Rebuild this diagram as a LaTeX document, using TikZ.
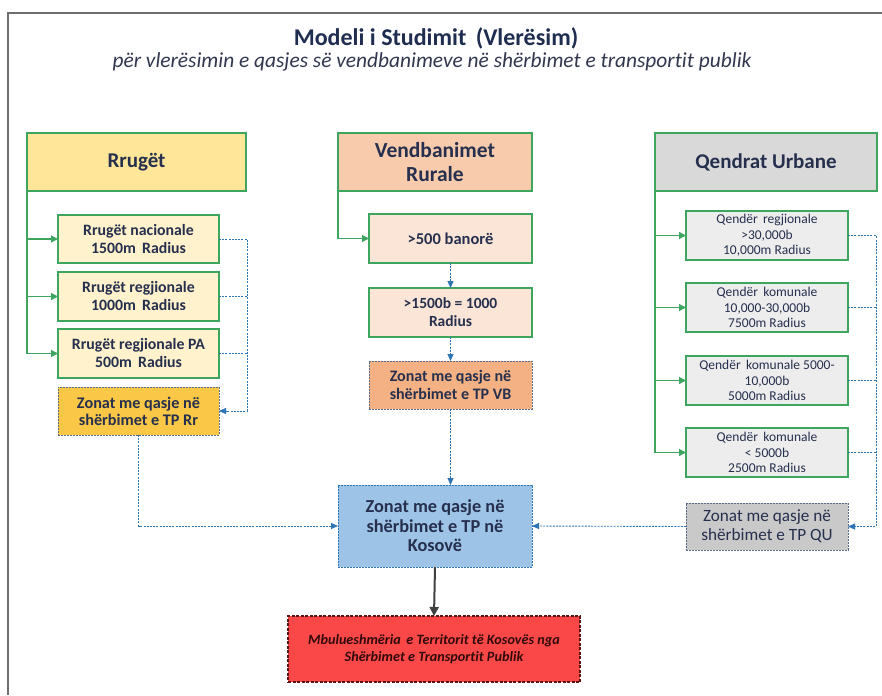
\documentclass[tikz,border=0pt]{standalone}
\usepackage{fontspec}
\setmainfont{Carlito}[Ligatures=NoCommon]
\usetikzlibrary{arrows.meta}
\definecolor{gbord}{RGB}{62,165,95}
\definecolor{bline}{RGB}{46,117,182}
\definecolor{dbord}{RGB}{90,110,140}
\definecolor{txt}{RGB}{38,48,78}
\definecolor{hY}{HTML}{FFE699}
\definecolor{sY}{HTML}{FFF2CC}
\definecolor{zY}{RGB}{250,200,70}
\definecolor{hO}{HTML}{F8CBAD}
\definecolor{sO}{HTML}{FBE5D6}
\definecolor{zO}{HTML}{F4B183}
\definecolor{hG}{HTML}{D9D9D9}
\definecolor{sG}{HTML}{EDEDED}
\definecolor{zG}{HTML}{C9C9C9}
\definecolor{kB}{HTML}{9DC3E6}
\definecolor{rR}{RGB}{250,72,72}
\definecolor{rB}{RGB}{90,20,20}
\definecolor{rT}{RGB}{50,10,10}
\definecolor{frame}{RGB}{110,110,110}
\begin{document}
\begin{tikzpicture}[x=1pt,y=-1pt,
  base/.style={inner sep=0pt, outer sep=0pt, align=center, text=txt},
  hdr/.style={base, draw=gbord, line width=1.2pt, minimum height=58pt, font=\bfseries\fontsize{21}{24}\selectfont},
  sub/.style={base, draw=gbord, line width=1.2pt, minimum width=161pt, minimum height=48pt, font=\bfseries\fontsize{15.8}{18}\selectfont},
  qsub/.style={base, draw=gbord, line width=1.2pt, minimum width=162pt, minimum height=49pt, font=\fontsize{13.5}{15.5}\selectfont},
  zon/.style={base, draw=dbord, line width=0.9pt, dash pattern=on 2pt off 1pt, minimum height=48pt, font=\bfseries\fontsize{16}{18}\selectfont},
  garr/.style={draw=gbord, line width=1.2pt, -{Triangle[length=7pt,width=7pt]}},
  gline/.style={draw=gbord, line width=1.2pt},
  barr/.style={draw=bline, line width=0.9pt, dash pattern=on 2pt off 1.2pt, -{Triangle[length=7pt,width=6pt]}},
  bline/.style={draw=bline, line width=0.9pt, dash pattern=on 2pt off 1.2pt}
]
\useasboundingbox (0,0) rectangle (882,695);
\fill[white] (0,0) rectangle (882,695);
\draw[frame, line width=2pt] (8,695) -- (8,13) -- (882,13);

% title
\node[base, text={rgb,255:red,31;green,45;blue,80}, font=\bfseries\fontsize{24}{28}\selectfont] (title) at (436,38) {Modeli i Studimit\, (Vlerësim)};
\node[base, text={rgb,255:red,50;green,55;blue,80}, font=\itshape\fontsize{21.4}{25}\selectfont] (subt) at (432,62) {për vlerësimin e qasjes së vendbanimeve në shërbimet e transportit publik};

% left column
\node[hdr, fill=hY, minimum width=219pt] (rrH) at (136.5,162) {Rrugët};
\node[sub, fill=sY] (rr1) at (138.5,239) {Rrugët nacionale\\1500m\, Radius};
\node[sub, fill=sY, minimum height=49pt] (rr2) at (138.5,296.5) {Rrugët regjionale\\1000m\, Radius};
\node[sub, fill=sY, minimum height=49pt] (rr3) at (138.5,353.5) {Rrugët regjionale PA\\500m\, Radius};
\node[zon, fill=zY, minimum width=161pt, font=\bfseries\fontsize{16.2}{17}\selectfont] (rrZ) at (138.5,411) {Zonat me qasje në\\shërbimet e TP Rr};

% middle column
\node[hdr, fill=hO, minimum width=194pt, font=\bfseries\fontsize{21.5}{24}\selectfont] (vbH) at (435,162) {Vendbanimet\\Rurale};
\node[sub, fill=sO, minimum width=163pt, minimum height=49pt, font=\bfseries\fontsize{16.5}{18}\selectfont] (vb1) at (450.5,238.5) {>500 banorë};
\node[sub, fill=sO, minimum width=163pt, minimum height=49pt, font=\bfseries\fontsize{15.5}{18}\selectfont] (vb2) at (450.5,312.5) {>1500b = 1000\\Radius};
\node[zon, fill=zO, minimum width=163pt] (vbZ) at (450.5,385) {Zonat me qasje në\\shërbimet e TP VB};

% right column
\node[hdr, fill=hG, minimum width=222pt] (quH) at (766,162) {Qendrat Urbane};
\node[qsub, fill=sG] (qu1) at (767,235.5) {Qendër\, regjionale\\>30,000b\\10,000m Radius};
\node[qsub, fill=sG] (qu2) at (767,307.5) {Qendër\, komunale\\10,000-30,000b\\7500m Radius};
\node[qsub, fill=sG] (qu3) at (767,380.5) {Qendër\, komunale 5000-\\10,000b\\5000m Radius};
\node[qsub, fill=sG] (qu4) at (767,452.5) {Qendër\, komunale\\< 5000b\\2500m Radius};
\node[zon, fill=zG, minimum width=162pt, minimum height=47pt, font=\fontsize{17.2}{19}\selectfont] (quZ) at (767,526.5) {Zonat me qasje në\\shërbimet e TP QU};

% kosovo and result
\node[zon, fill=kB, draw=bline, minimum width=194pt, minimum height=82pt, font=\bfseries\fontsize{18.3}{19.5}\selectfont] (kos) at (435,526) {Zonat me qasje në\\shërbimet e TP në\\Kosovë};
\node[base, fill=rR, draw=rB, line width=1.8pt, dash pattern=on 3pt off 1.5pt, minimum width=292pt, minimum height=66pt, text=rT, font=\bfseries\itshape\fontsize{14.2}{17}\selectfont] (res) at (434,649) {Mbulueshmëria\, e Territorit të Kosovës nga\\Shërbimet e Transportit Publik};

% green connectors
\coordinate (gL) at (27,0);
\draw[gline] (rrH.south west) -- (rr3.west -| gL);
\draw[garr] (rr1.west -| gL) -- (rr1.west);
\draw[garr] (rr2.west -| gL) -- (rr2.west);
\draw[garr] (rr3.west -| gL) -- (rr3.west);

\draw[garr] (vbH.south west) -- (vb1.west -| vbH.south west) -- (vb1.west);

\coordinate (gR) at (655,0);
\draw[gline] (quH.south west) -- (qu4.west -| gR);
\draw[garr] (qu1.west -| gR) -- (qu1.west);
\draw[garr] (qu2.west -| gR) -- (qu2.west);
\draw[garr] (qu3.west -| gR) -- (qu3.west);
\draw[garr] (qu4.west -| gR) -- (qu4.west);

% blue dashed connectors, left
\coordinate (bL) at (247,0);
\draw[barr] (rr1.east) -- (rr1.east -| bL) -- (rrZ.east -| bL) -- (rrZ.east);
\draw[bline] (rr2.east) -- (rr2.east -| bL);
\draw[bline] (rr3.east) -- (rr3.east -| bL);
\draw[barr] (rrZ.south) -- (rrZ.south |- kos.west) -- (kos.west);

% middle
\draw[barr] (vb1.south) -- (vb2.north);
\draw[barr] (vb2.south) -- (vbZ.north);
\draw[barr] (vbZ.south) -- (vbZ.south |- kos.north);

% right
\coordinate (bR) at (876,0);
\draw[barr] (qu1.east) -- (qu1.east -| bR) -- (quZ.east -| bR) -- (quZ.east);
\draw[bline] (qu2.east) -- (qu2.east -| bR);
\draw[bline] (qu3.east) -- (qu3.east -| bR);
\draw[bline] (qu4.east) -- (qu4.east -| bR);
\draw[barr] (quZ.west) -- (kos.east);

% solid arrow
\draw[draw={rgb,255:red,64;green,64;blue,64}, line width=2pt, -{Triangle[length=9pt,width=9pt]}] (kos.south) -- (res.north);
\end{tikzpicture}
\end{document}
